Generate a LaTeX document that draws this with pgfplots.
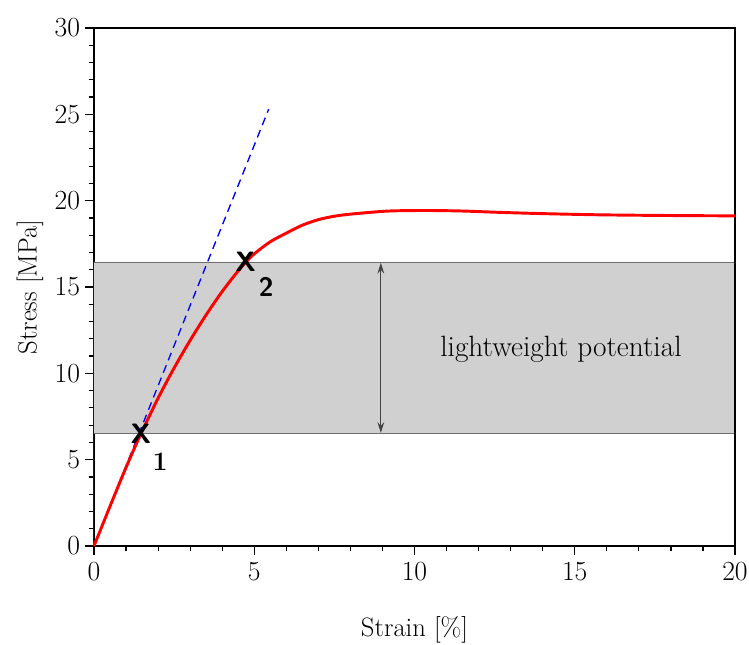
\documentclass[border=0pt]{standalone}
\usepackage{pgfplots}
\pgfplotsset{compat=1.18}
\usetikzlibrary{arrows.meta}
\definecolor{bandgray}{RGB}{208,208,208}
\definecolor{edgegray}{RGB}{110,110,110}
\begin{document}
\begin{tikzpicture}
\useasboundingbox (-70.5pt,-73.5pt) rectangle (491.25pt,409.5pt);
\begin{axis}[
  at={(0,0)}, anchor=south west,
  scale only axis, width=480.75pt, height=388.5pt,
  xmin=0, xmax=20, ymin=0, ymax=30,
  axis x line*=bottom, axis y line*=left,
  xtick={0,5,...,20}, ytick={0,5,...,30},
  minor xtick={1,2,3,4,6,7,8,9,11,12,13,14,16,17,18,19},
  minor ytick={1,2,3,4,6,7,8,9,11,12,13,14,16,17,18,19,21,22,23,24,26,27,28,29},
  tick align=outside,
  major tick length=7pt, minor tick length=4pt,
  tick style={black, line width=0.9pt},
  axis line style={line width=0.9pt},
  ticklabel style={font=\fontsize{20}{24}\selectfont},
  xticklabel style={yshift=-2pt},
  xlabel={Strain [\%]}, ylabel={Stress [MPa]},
  label style={font=\fontsize{20}{24}\selectfont},
  xlabel style={at={(axis description cs:0.5,0)}, anchor=center, yshift=-63pt},
  ylabel style={at={(axis description cs:-0.0998,0.5)}, anchor=center},
  clip=false,
]
% band
\addplot[fill=bandgray, draw=none, forget plot] coordinates {(0,6.5) (20,6.5) (20,16.45) (0,16.45)} \closedcycle;
\addplot[edgegray, line width=0.7pt, forget plot] coordinates {(0,6.5) (20,6.5)};
\addplot[edgegray, line width=0.7pt, forget plot] coordinates {(0,16.45) (20,16.45)};
% right and top frame
\addplot[black, line width=0.9pt, forget plot] coordinates {(0,30) (20,30) (20,0)};
% arrow
\addplot[edgegray!60!black, line width=0.8pt, {Stealth[length=8pt,width=5pt]}-{Stealth[length=8pt,width=5pt]}, forget plot] coordinates {(8.95,6.55) (8.95,16.4)};
% dashed tangent
\addplot[blue, line width=1pt, dash pattern=on 6pt off 4pt] coordinates {(0,0) (5.45,25.3)};
% red curve
\addplot[red, line width=2.2pt, smooth, tension=0.5] coordinates {
(0,0) (0.5,2.30) (1.0,4.55) (1.46,6.48) (2.0,8.56) (2.5,10.31) (3.0,11.91)
(3.5,13.39) (4.0,14.74) (4.5,15.94) (4.73,16.42) (5.0,16.92) (5.5,17.62)
(6.0,18.12) (6.5,18.58) (7.0,18.9) (7.5,19.1) (8.0,19.22) (9.0,19.38)
(9.6,19.42) (10.5,19.43) (11.5,19.4) (12.7,19.32) (14.0,19.25) (15.8,19.18)
(18.0,19.14) (20,19.12)};
% markers
\addplot[only marks, mark=none, nodes near coords={X}, every node near coord/.append style={font=\fontsize{21}{24}\selectfont\sffamily\bfseries, anchor=center}] coordinates {(1.46,6.5) (4.73,16.45)};
\node[font=\fontsize{20}{24}\selectfont\bfseries] at (axis cs:2.06,4.86) {1};
\node[font=\fontsize{20}{24}\selectfont\sffamily\bfseries] at (axis cs:5.37,15.0) {2};
\node[font=\fontsize{22}{26}\selectfont] at (axis cs:14.57,11.4) {lightweight potential};
\end{axis}
\end{tikzpicture}
\end{document}
